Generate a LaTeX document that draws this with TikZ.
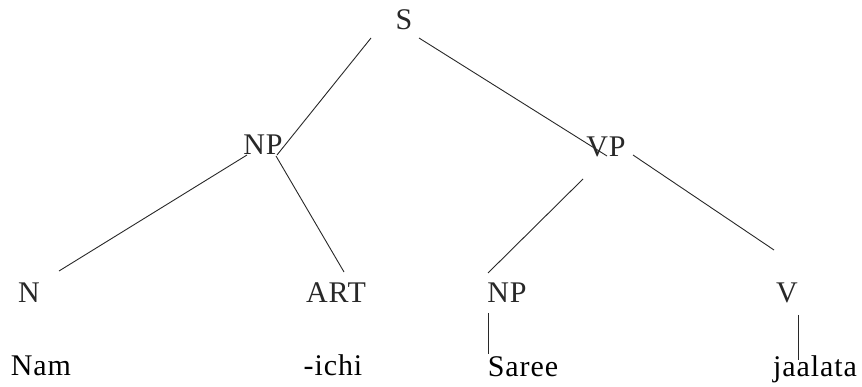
\documentclass[tikz,border=0pt]{standalone}
\usepackage{fontspec}
\setmainfont{Liberation Serif}[LetterSpace=3]
\usepackage{tikz}
\usetikzlibrary{
  arrows.meta,
  calc
}
\definecolor{inkgray}{RGB}{40,40,40}
\tikzset{
  tree/.style={ font=\fontsize{30}{35}\selectfont },
  cat/.style={
    anchor=base,
    inner sep=0pt,
    text=inkgray
  },
  word/.style={
    anchor=base,
    inner sep=0pt,
    text=black
  },
  branch/.style={
    line width=0.9pt,
    draw=inkgray
  }
}

\begin{document}
\begin{tikzpicture}[tree, x=1pt, y=-1pt]
  \useasboundingbox (0,0) rectangle (862,387);
  % categories
  \node[cat] (s)    at (404,30)  {S};
  \node[cat] (np1)  at (263,155) {NP};
  \node[cat] (vp)   at (606,157) {VP};
  \node[cat] (n)    at (29,302)  {N};
  \node[cat] (art)  at (336,302) {ART};
  \node[cat] (np2)  at (507,303) {NP};
  \node[cat] (v)    at (787,302) {V};
  % words
  \node[word] (nam)     at (41,375)  {Nam};
  \node[word] (ichi)    at (333,375) {-ichi};
  \node[word] (saree)   at (523,376) {Saree};
  \node[word] (jaalata) at (815,376) {jaalata};
  % branches
  \draw[branch] ([shift={(-33,8)}]s.base)    -- ([shift={(14,0)}]np1.base);
  \draw[branch] ([shift={(15,8)}]s.base)     -- ([shift={(1,-1)}]vp.base);
  \draw[branch] ([shift={(-16,0)}]np1.base)  -- ([shift={(30,-31)}]n.base);
  \draw[branch] ([shift={(13,1)}]np1.base)   -- ([shift={(8,-30)}]art.base);
  \draw[branch] ([shift={(-23,22)}]vp.base)  -- ([shift={(-19,-30)}]np2.base);
  \draw[branch] ([shift={(27,-2)}]vp.base)   -- ([shift={(-13,-52)}]v.base);
  \draw[branch] ([shift={(-19,10)}]np2.base) -- ([shift={(-35,-22)}]saree.base);
  \draw[branch] ([shift={(11,13)}]v.base)    -- ([shift={(-17,-16)}]jaalata.base);
\end{tikzpicture}
\end{document}
